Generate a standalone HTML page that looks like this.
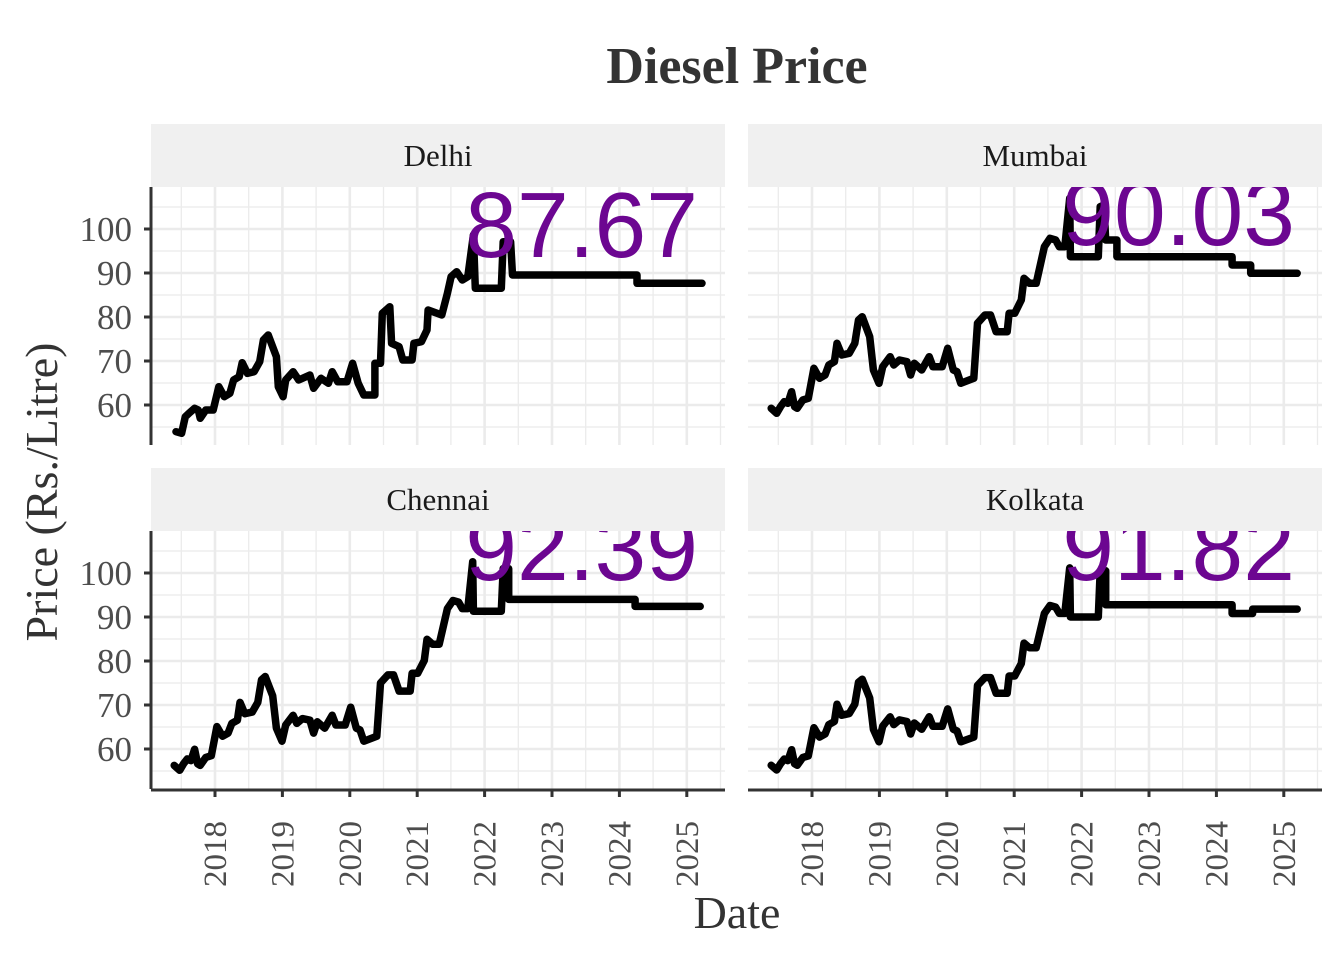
<!DOCTYPE html>
<html><head><meta charset="utf-8"><style>
html,body{margin:0;padding:0;background:#fff;}
svg{display:block;font-family:"Liberation Serif",serif;}
</style></head><body>
<svg id="s" width="1344" height="960" viewBox="0 0 1344 960" xmlns="http://www.w3.org/2000/svg">
<rect width="1344" height="960" fill="#fff"/>
<text x="737" y="83" text-anchor="middle" font-size="52" font-weight="bold" fill="#333">Diesel Price</text>
<text x="737" y="928" text-anchor="middle" font-size="46" fill="#333">Date</text>
<text transform="translate(57,492) rotate(-90)" text-anchor="middle" font-size="46" fill="#333">Price (Rs./Litre)</text>
<g id="g"></g>
</svg>
<script>
var NS="http://www.w3.org/2000/svg",G=document.getElementById('g');
var SX=2.69;
function el(t,a,txt){var e=document.createElementNS(NS,t);for(var k in a)e.setAttribute(k,a[k]);if(txt!=null)e.textContent=txt;G.appendChild(e);return e;}
var D=[[70,755],[85,760],[95,710],[105,700],[120,685],[130,690],[135,715],[150,690],[170,690],[185,620],[200,650],[215,640],[225,600],[240,590],[248,548],[262,580],[280,575],[295,545],[305,480],[318,465],[340,530],[345,620],[358,650],[365,600],[385,575],[400,600],[430,585],[440,625],[460,595],[480,610],[490,575],[505,605],[530,605],[545,550],[560,610],[575,645],[605,645],[605,550],[620,550],[625,400],[645,380],[650,490],[670,500],[680,540],[705,540],[710,490],[730,485],[745,450],[748,390],[785,405],[800,340],[810,290],[825,275],[840,300],[855,290],[870,165],[875,325],[945,325],[950,185],[970,185],[975,285],[1310,285],[1310,310],[1485,310]];
var M=[[65,685],[80,700],[90,680],[100,665],[110,670],[120,635],[128,680],[135,685],[150,660],[165,655],[180,565],[195,595],[210,585],[220,555],[235,545],[242,490],[255,525],[275,520],[290,490],[300,420],[310,410],[330,470],[340,570],[355,610],[365,560],[385,530],[395,555],[410,540],[430,545],[440,585],[450,550],[470,570],[490,530],[500,560],[525,560],[540,505],[555,570],[565,575],[575,610],[610,595],[620,430],[640,405],[655,405],[670,455],[700,455],[705,400],[720,400],[738,360],[745,295],[760,310],[778,310],[800,200],[815,175],[830,180],[840,200],[855,200],[868,55]];
function zy2p(zy){var y=180+zy/3;return 100-(y-229)/4.4;}
function p2zy(p){return ((100-p)*4.4+229-180)*3;}
function conv(pts,f){return pts.map(function(q){return [q[0],p2zy(f(zy2p(q[1])))];});}
var Mfull=M.concat([[870,230],[945,230],[950,80],[960,75],[965,180],[995,180],[995,230],[1305,230],[1305,255],[1355,255],[1355,280],[1480,280]]);
var C=conv(M,function(p){return p-3-(p-60)*0.03;}).concat([[870,91.3],[945,91.3],[950,101],[965,101],[965,94],[1305,94],[1305,92.4],[1480,92.4]].map(function(q){return [q[0],p2zy(q[1])];}));
var K=conv(M,function(p){return p-3-(p-60)*0.06;}).concat([[870,90],[945,90],[950,100.5],[965,100.5],[965,92.8],[1305,92.8],[1305,90.8],[1360,90.8],[1360,91.8],[1480,91.8]].map(function(q){return [q[0],p2zy(q[1])];}));
var panels=[
 {x:151,y:187,lab:"Delhi",pts:D,num:"87.67",nb:257,left:true,bottom:false},
 {x:748,y:187,lab:"Mumbai",pts:Mfull,num:"90.03",nb:245,left:false,bottom:false},
 {x:151,y:531,lab:"Chennai",pts:C,num:"92.39",nb:580,left:true,bottom:true},
 {x:748,y:531,lab:"Kolkata",pts:K,num:"91.82",nb:580,left:false,bottom:true}];
var W=574,H=258,yr=67.4;
panels.forEach(function(P,i){
 var dy=P.y-187, dx=P.x-151;
 el('rect',{x:P.x,y:P.y-63,width:W,height:63,fill:'#f0f0f0'});
 el('text',{x:P.x+W/2,y:P.y-21,'text-anchor':'middle','font-size':31,fill:'#1a1a1a'},P.lab);
 var cp=el('clipPath',{id:'c'+i});var r=document.createElementNS(NS,'rect');r.setAttribute('x',P.x);r.setAttribute('y',P.y);r.setAttribute('width',W);r.setAttribute('height',H);cp.appendChild(r);
 for(var v=55;v<=105;v+=10){var yy=229+(100-v)*4.4+dy;el('line',{x1:P.x,x2:P.x+W,y1:yy,y2:yy,stroke:'#ebebeb','stroke-width':1.3});}
 for(var k=-1;k<8;k++){var xx=215+dx+(k+0.5)*yr;if(xx>P.x&&xx<P.x+W)el('line',{x1:xx,x2:xx,y1:P.y,y2:P.y+H,stroke:'#ebebeb','stroke-width':1.3});}
 for(var v=60;v<=100;v+=10){var yy=229+(100-v)*4.4+dy;el('line',{x1:P.x,x2:P.x+W,y1:yy,y2:yy,stroke:'#ebebeb','stroke-width':2.6});}
 for(var k=0;k<8;k++){var xx=215+dx+k*yr;el('line',{x1:xx,x2:xx,y1:P.y,y2:P.y+H,stroke:'#ebebeb','stroke-width':2.6});}
 var s=P.pts.map(function(q){return (150+dx+q[0]/SX).toFixed(1)+','+(180+dy+q[1]/3).toFixed(1);}).join(' ');
 el('polyline',{points:s,fill:'none',stroke:'#000','stroke-width':7.5,'stroke-linejoin':'round','stroke-linecap':'round','clip-path':'url(#c'+i+')'});
 el('text',{x:P.x+W-27,y:P.nb,'text-anchor':'end','font-size':93,fill:'#6c0691','font-family':'Liberation Sans, sans-serif','clip-path':'url(#c'+i+')'},P.num);
 if(P.left){
  el('line',{x1:P.x,x2:P.x,y1:P.y,y2:P.y+H,stroke:'#333','stroke-width':3});
  for(var v=60;v<=100;v+=10){var yy=229+(100-v)*4.4+dy;el('line',{x1:P.x-7,x2:P.x,y1:yy,y2:yy,stroke:'#333','stroke-width':3});
   el('text',{x:P.x-19,y:yy+12,'text-anchor':'end','font-size':35,fill:'#4d4d4d'},String(v));}
 }
 if(P.bottom){
  var by=P.y+H+1;
  el('line',{x1:P.x,x2:P.x+W,y1:by,y2:by,stroke:'#333','stroke-width':3});
  for(var k=0;k<8;k++){var xx=215+dx+k*yr;el('line',{x1:xx,x2:xx,y1:by,y2:by+7,stroke:'#333','stroke-width':3});
   el('text',{transform:'translate('+(xx+11)+','+(by+31)+') rotate(-90)','text-anchor':'end','font-size':33,fill:'#4d4d4d'},String(2018+k));}
 }
});
</script>
</body></html>
